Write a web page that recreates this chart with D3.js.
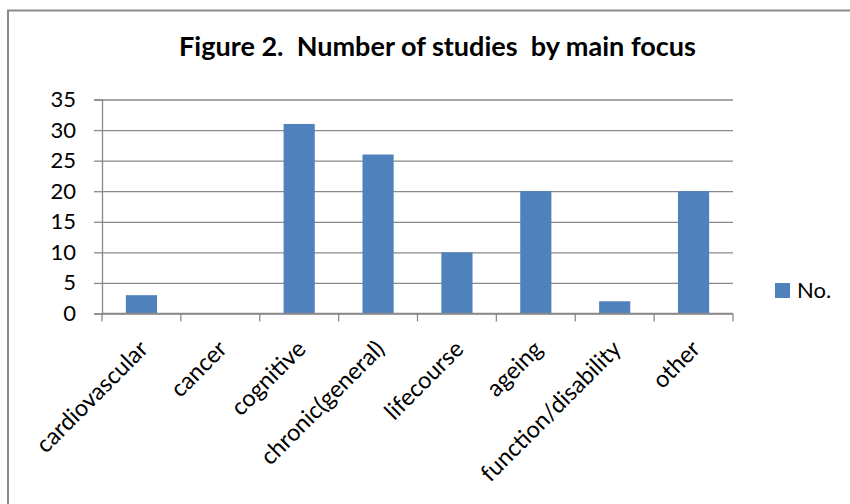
<!DOCTYPE html>
<html>
<head>
<meta charset="utf-8">
<script src="https://cdn.jsdelivr.net/npm/d3@7"></script>
<style>
  html, body { margin: 0; padding: 0; background: #fff; }
  svg { display: block; }
  text { font-family: Lato, "Open Sans", sans-serif; fill: #000; }
</style>
</head>
<body>
<svg id="chart" width="850" height="504"></svg>
<script>
const categories = ["cardiovascular", "cancer", "cognitive", "chronic(general)", "lifecourse", "ageing", "function/disability", "other"];
const values = [3, 0, 31, 26, 10, 20, 2, 20];
const yTicks = [0, 5, 10, 15, 20, 25, 30, 35];
const seriesName = "No.";
const titleText = "Figure 2.  Number of studies  by main focus";

const W = 850, H = 504;
const svg = d3.select("#chart");
const barColor = "#4F81BD";
const gridColor = "#898989";

// outer border (right/bottom run past the picture edge)
svg.append("rect")
  .attr("x", 8).attr("y", 10.5)
  .attr("width", 900).attr("height", 600)
  .attr("fill", "none").attr("stroke", "#8a8a8a").attr("stroke-width", 2);

const plot = { left: 102, right: 733, top: 99.5, bottom: 313.5 };

const x = d3.scaleBand().domain(categories)
  .range([plot.left, plot.right]).paddingInner(0.605).paddingOuter(0.3025);
const y = d3.scaleLinear().domain([0, 35]).range([plot.bottom, plot.top]);

// gridlines + y tick marks
const yAxis = d3.axisLeft(y).tickValues(yTicks).tickSize(8).tickPadding(18).tickFormat(d3.format("d"));
const gy = svg.append("g").attr("transform", `translate(${plot.left},0)`).call(yAxis);
gy.select(".domain").attr("stroke", gridColor).attr("stroke-width", 1.3);
gy.selectAll(".tick line").attr("stroke", gridColor).attr("stroke-width", 1.3);
gy.selectAll(".tick text").attr("font-size", 22).attr("font-family", "Lato");
gy.selectAll(".tick").append("line")
  .attr("x1", 0).attr("x2", plot.right - plot.left)
  .attr("stroke", gridColor).attr("stroke-width", 1.3);

// bars
svg.append("g").selectAll("rect").data(categories).join("rect")
  .attr("x", d => x(d))
  .attr("width", x.bandwidth())
  .attr("y", (d, i) => y(values[i]))
  .attr("height", (d, i) => y(0) - y(values[i]))
  .attr("fill", barColor);

// x axis line and ticks at band boundaries
const gx = svg.append("g");
gx.append("line").attr("x1", plot.left).attr("x2", plot.right)
  .attr("y1", y(0)).attr("y2", y(0)).attr("stroke", gridColor).attr("stroke-width", 1.3);
const bounds = categories.map(c => x(c) - x.step() * x.paddingInner() / 2).concat([plot.right]);
bounds[0] = plot.left;
gx.selectAll(".xt").data(bounds).join("line")
  .attr("x1", d => d).attr("x2", d => d)
  .attr("y1", y(0)).attr("y2", y(0) + 8)
  .attr("stroke", gridColor).attr("stroke-width", 1.3);

// rotated category labels
gx.selectAll(".xl").data(categories).join("text")
  .attr("text-anchor", "end")
  .attr("font-size", 23.5)
  .attr("transform", d => `translate(${x(d) + x.bandwidth() / 2 + 8},${y(0) + 37}) rotate(-45)`)
  .text(d => d);

// title
const title = svg.append("text")
  .attr("x", 437.5).attr("y", 56)
  .attr("text-anchor", "middle")
  .attr("font-weight", "bold")
  .attr("font-size", 21)
  .style("white-space", "pre")
  .text(titleText);
const tw = title.node().getComputedTextLength();
title.attr("font-size", 21 * 517 / tw);

// legend
const lg = svg.append("g");
lg.append("rect").attr("x", 775).attr("y", 283).attr("width", 15).attr("height", 15).attr("fill", barColor);
lg.append("text").attr("x", 797).attr("y", 298).attr("font-size", 22).text(seriesName);
</script>
</body>
</html>
